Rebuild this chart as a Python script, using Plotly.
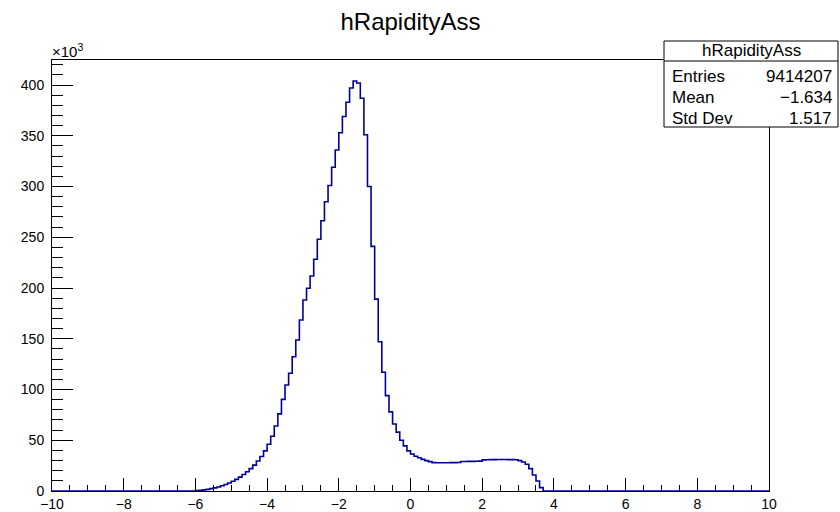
import numpy as np
import plotly.graph_objects as go

# ---------------- data ----------------
hist_title = "hRapidityAss"
x_min, x_max, n_bins = -10.0, 10.0, 200
first_filled_edge = -6.0
# bin contents in thousands, bins of width 0.1 starting at -6.0
counts_k = [
    0.35, 0.7, 1.1, 1.6, 2.3, 3.1, 4.0, 5.1, 6.4, 7.9,        # -6.0 .. -5.1
    9.6, 11.5, 13.7, 16.2, 19.0, 22.0, 25.5, 29.5, 34.0, 39.5,  # -5.0 .. -4.1
    46.0, 54.0, 64.0, 76.0, 90.3, 104.4, 116.0, 132.3, 148.8, 168.5,  # -4.0 .. -3.1
    188.2, 199.7, 211.8, 228.3, 248.0, 266.3, 285.0, 301.0, 319.0, 336.0,  # -3.0 .. -2.1
    353.0, 369.0, 383.0, 397.0, 404.0, 402.0, 387.0, 351.0, 300.0, 241.0,  # -2.0 .. -1.1
    189.0, 147.0, 117.0, 94.0, 78.0, 66.0, 58.0, 50.0, 44.5, 39.5,  # -1.0 .. -0.1
    36.5, 34.2, 32.8, 31.2, 29.9, 28.9, 28.0, 27.8, 27.8, 27.9,   # 0.0 .. 0.9
    27.9, 28.0, 28.0, 28.1, 29.0, 29.1, 29.2, 29.2, 29.3, 29.4,   # 1.0 .. 1.9
    30.7, 30.8, 30.9, 30.9, 31.0, 31.0, 31.0, 30.9, 30.9, 30.8,   # 2.0 .. 2.9
    29.9, 28.6, 26.3, 22.0, 15.8, 9.9, 3.3,                       # 3.0 .. 3.6
]
x_tick_vals = list(range(-10, 11, 2))
y_tick_vals = list(range(0, 401, 50))
y_exponent_label = "\u00d710<sup>3</sup>"
stats_labels = ["Entries", "Mean", "Std Dev"]
stats_values = ["9414207", "\u22121.634", "1.517"]

# ---------------- build histogram ----------------
width = (x_max - x_min) / n_bins
edges = np.linspace(x_min, x_max, n_bins + 1)
contents = np.zeros(n_bins)
i0 = int(round((first_filled_edge - x_min) / width))
contents[i0:i0 + len(counts_k)] = counts_k
y_step = np.append(contents, contents[-1])

fig = go.Figure()
fig.add_trace(go.Scatter(
    x=edges, y=y_step, mode="lines", line_shape="hv",
    line=dict(color="#000099", width=1.6), hoverinfo="skip", showlegend=False,
))

# ---------------- layout geometry (pixels) ----------------
W, H = 840, 512
L, R, T, B = 52, 769, 60, 491
def px(p):
    return (p - L) / (R - L)
def py(p):
    return (B - p) / (B - T)

font = "Liberation Sans, Arial, Helvetica, sans-serif"

fig.update_layout(
    width=W, height=H,
    margin=dict(l=L, r=W - R, t=T, b=H - B, pad=0, autoexpand=False),
    paper_bgcolor="white", plot_bgcolor="white",
    font=dict(family=font, color="black", size=14),
    title=dict(text=hist_title, x=0.5, xref="paper", xanchor="center",
               y=1 - 22 / H, yref="container", yanchor="middle",
               font=dict(size=24, family=font, color="black")),
    showlegend=False,
)
fig.update_xaxes(
    range=[x_min, x_max], tickvals=x_tick_vals, ticks="inside", ticklen=13,
    tickwidth=1, tickcolor="black", showline=True, linecolor="black",
    linewidth=1, mirror=True, showgrid=False, zeroline=False, automargin=False,
    tickfont=dict(size=14, color="black"),
    minor=dict(ticks="inside", ticklen=6.5, dtick=0.5, tick0=0,
               tickcolor="black", tickwidth=1, showgrid=False),
)
top_k = (B - T) / ((B - 85) / 400.0)
fig.update_yaxes(
    range=[0, top_k], tickvals=y_tick_vals, ticks="inside", ticklen=21,
    tickwidth=1, tickcolor="black", showline=True, linecolor="black",
    linewidth=1, mirror=True, showgrid=False, zeroline=False, automargin=False,
    tickfont=dict(size=14, color="black"), ticklabelstandoff=4,
    minor=dict(ticks="inside", ticklen=11, dtick=10, tick0=0,
               tickcolor="black", tickwidth=1, showgrid=False),
)

# exponent label
fig.add_annotation(text=y_exponent_label, xref="paper", yref="paper",
                   x=px(50), y=py(51), xanchor="left", yanchor="middle",
                   showarrow=False, font=dict(size=15, family=font))

# ---------------- stats box ----------------
bx0, bx1, by0, by1, bsep = 664, 838, 41, 127, 61
fig.add_shape(type="rect", xref="paper", yref="paper",
              x0=px(bx0), x1=px(bx1), y0=py(by1), y1=py(by0),
              line=dict(color="black", width=1), fillcolor="white", layer="above")
fig.add_shape(type="line", xref="paper", yref="paper",
              x0=px(bx0), x1=px(bx1), y0=py(bsep), y1=py(bsep),
              line=dict(color="black", width=1), layer="above")
fig.add_annotation(text=hist_title, xref="paper", yref="paper",
                   x=px((bx0 + bx1) / 2), y=py(51), xanchor="center", yanchor="middle",
                   showarrow=False, font=dict(size=17, family=font))
row_y = [76, 97, 118]
for lab, val, yy in zip(stats_labels, stats_values, row_y):
    fig.add_annotation(text=lab, xref="paper", yref="paper", x=px(670), y=py(yy),
                       xanchor="left", yanchor="middle", showarrow=False,
                       font=dict(size=17, family=font))
    fig.add_annotation(text=val, xref="paper", yref="paper", x=px(834), y=py(yy),
                       xanchor="right", yanchor="middle", showarrow=False,
                       font=dict(size=17, family=font))

fig.write_html("out.html")
